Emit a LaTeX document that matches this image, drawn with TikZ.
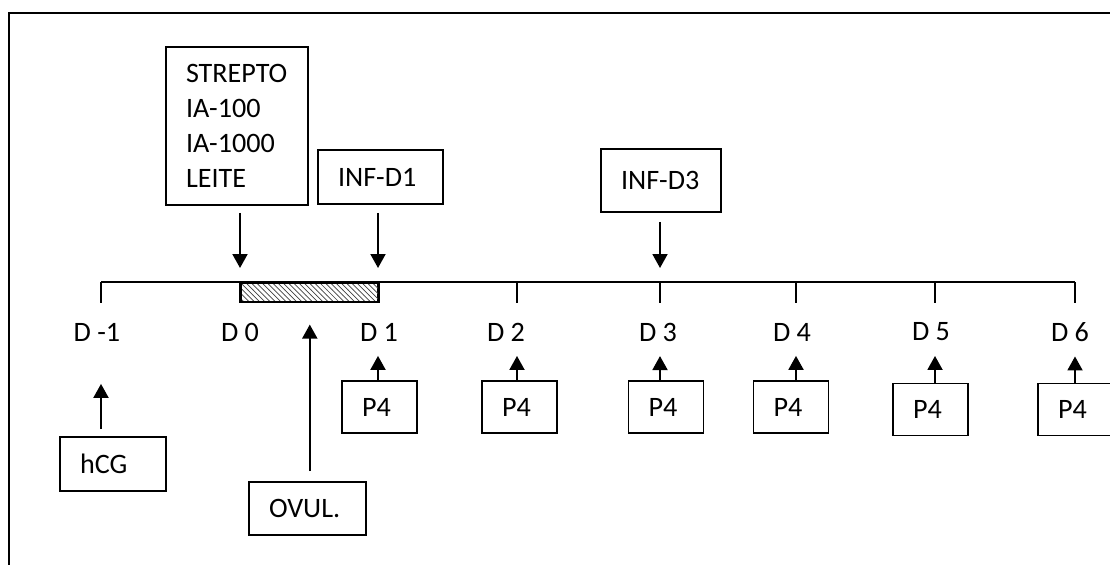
\documentclass[tikz,border=0pt]{standalone}
\usepackage{fontspec}
\setmainfont{Carlito}
\usepackage{tikz}
\usetikzlibrary{positioning,arrows.meta,calc,patterns}

\begin{document}
\begin{tikzpicture}[font=\fontsize{16}{20}\selectfont,
  bx/.style={draw,line width=0.9pt,inner xsep=4mm,inner ysep=0pt,align=left},
  lab/.style={inner sep=0pt},
  hatch/.style={draw,line width=0.9pt,pattern=north west lines,pattern color=black!75,inner sep=0pt},
  arr/.style={-{Triangle[width=3mm,length=2.8mm]},line width=1.1pt},
  axis/.style={line width=0.9pt}]
\useasboundingbox (0,0) rectangle (22.2,11.28);
\clip (0,0) rectangle (22.2,11.28);
% moldura
\draw[line width=1.2pt] (0.18,-0.5) -- (0.18,11.02) -- (23,11.02);
% linha do tempo
\coordinate (tm1) at (2.02,5.64);
\coordinate (t0) at (4.80,5.64);
\coordinate (t1) at (7.56,5.64);
\coordinate (t2) at (10.34,5.64);
\coordinate (t3) at (13.20,5.64);
\coordinate (t4) at (15.92,5.64);
\coordinate (t5) at (18.70,5.64);
\coordinate (t6) at (21.50,5.64);
\draw[axis] (tm1) -- (t6);
\draw[axis] (tm1) -- ++(0,-0.42);
\draw[axis] (t0) -- ++(0,-0.42);
\draw[axis] (t1) -- ++(0,-0.42);
\draw[axis] (t2) -- ++(0,-0.42);
\draw[axis] (t3) -- ++(0,-0.42);
\draw[axis] (t4) -- ++(0,-0.42);
\draw[axis] (t5) -- ++(0,-0.42);
\draw[axis] (t6) -- ++(0,-0.42);
\node[hatch,minimum width=2.76cm,minimum height=0.38cm,anchor=north west] (win) at (t0) {};
% dias
\node[lab] (lm1) at (1.94,4.64) {D -1};
\node[lab] (l0) at (4.80,4.64) {D 0};
\node[lab] (l1) at (7.58,4.64) {D 1};
\node[lab] (l2) at (10.12,4.64) {D 2};
\node[lab] (l3) at (13.16,4.64) {D 3};
\node[lab] (l4) at (15.84,4.64) {D 4};
\node[lab] (l5) at (18.62,4.64) {D 5};
\node[lab] (l6) at (21.40,4.64) {D 6};
% tratamentos
\node[bx,text width=2.04cm,minimum height=3.16cm] (strep) at (4.74,8.76) {STREPTO\\IA-100\\IA-1000\\LEITE};
\node[bx,text width=1.70cm,minimum height=1.08cm] (infa) at (7.61,7.74) {INF-D1};
\node[bx,text width=1.60cm,minimum height=1.26cm] (infb) at (13.22,7.67) {INF-D3};
\draw[arr,shorten <=1.4mm,shorten >=2.8mm] (t0 |- strep.south) -- (t0);
\draw[arr,shorten <=1.6mm,shorten >=2.8mm] (t1 |- infa.south) -- (t1);
\draw[arr,shorten <=1.8mm,shorten >=2.8mm] (t3 |- infb.south) -- (t3);
% hCG e ovulacao
\node[bx,text width=1.32cm,minimum height=1.08cm] (hcg) at (2.26,2.00) {hCG};
\node[bx,text width=1.54cm,minimum height=1.06cm] (ovul) at (6.15,1.11) {OVUL.};
\draw[arr,shorten <=1.4mm,shorten >=8.5mm] (tm1 |- hcg.north) -- (tm1 |- lm1.south);
\draw[arr,shorten <=2mm,shorten >=4.4mm] (win.south |- ovul.north) -- (win.south);
% P4
\node[bx,text width=0.7cm,minimum height=1.04cm] (p1) at (7.59,3.14) {P4};
\node[bx,text width=0.7cm,minimum height=1.04cm] (p2) at (10.39,3.14) {P4};
\node[bx,text width=0.7cm,minimum height=1.04cm] (p3) at (13.32,3.14) {P4};
\node[bx,text width=0.7cm,minimum height=1.04cm] (p4) at (15.82,3.14) {P4};
\node[bx,text width=0.7cm,minimum height=1.04cm] (p5) at (18.61,3.09) {P4};
\node[bx,text width=0.7cm,minimum height=1.04cm] (p6) at (21.51,3.09) {P4};
\draw[arr,shorten >=2.9mm] (t1 |- p1.north) -- (t1 |- l1.south);
\draw[arr,shorten >=2.9mm] (t2 |- p2.north) -- (t2 |- l2.south);
\draw[arr,shorten >=2.9mm] (t3 |- p3.north) -- (t3 |- l3.south);
\draw[arr,shorten >=2.9mm] (t4 |- p4.north) -- (t4 |- l4.south);
\draw[arr,shorten >=2.9mm] (t5 |- p5.north) -- (t5 |- l5.south);
\draw[arr,shorten >=2.9mm] (t6 |- p6.north) -- (t6 |- l6.south);
\end{tikzpicture}
\end{document}
